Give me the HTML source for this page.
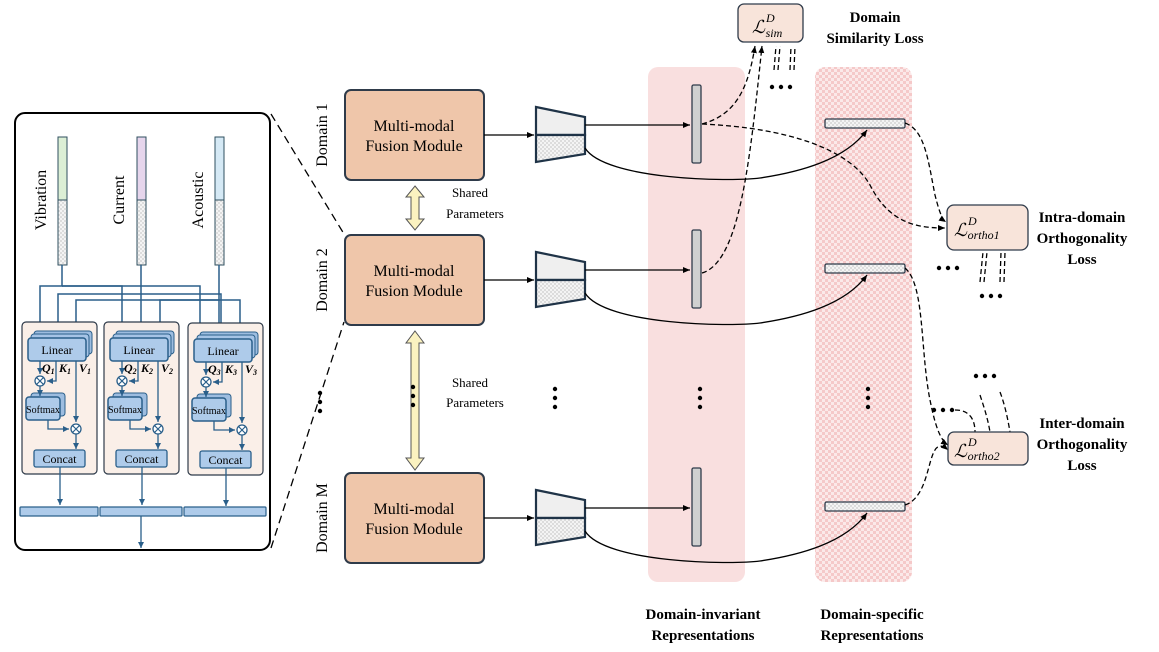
<!DOCTYPE html>
<html><head><meta charset="utf-8"><style>
html,body{margin:0;padding:0;background:#fff}
svg{display:block}
text{font-family:"Liberation Serif",serif}
</style></head><body>
<svg width="1159" height="652" viewBox="0 0 1159 652" xmlns="http://www.w3.org/2000/svg">
<defs>
<pattern id="chk" width="6" height="6" patternUnits="userSpaceOnUse"><rect width="6" height="6" fill="#fbe9e9"/><rect width="3" height="3" fill="#f5c9c9"/><rect x="3" y="3" width="3" height="3" fill="#f5c9c9"/></pattern>
<pattern id="gchk" width="4" height="4" patternUnits="userSpaceOnUse"><rect width="4" height="4" fill="#f4f4f4"/><rect width="2" height="2" fill="#dcdcdc"/><rect x="2" y="2" width="2" height="2" fill="#dcdcdc"/></pattern>
<marker id="ar" markerWidth="8" markerHeight="8" refX="7" refY="4" orient="auto" markerUnits="userSpaceOnUse"><path d="M0,1 L7,4 L0,7z" fill="#000"/></marker>
<marker id="ab" markerWidth="7" markerHeight="7" refX="6" refY="3.5" orient="auto" markerUnits="userSpaceOnUse"><path d="M0,0.5 L6,3.5 L0,6.5z" fill="#2a5f8a"/></marker>
</defs>

<!-- left panel -->
<rect x="15" y="113" width="255" height="437" rx="10" fill="#fff" stroke="#000" stroke-width="2"/>
<g>
<rect x="58" y="137" width="9" height="63" fill="#dcefd5" stroke="#2f4f5f"/>
<rect x="58" y="200" width="9" height="65" fill="url(#gchk)" stroke="#2f4f5f"/>
<rect x="137" y="137" width="9" height="63" fill="#e6d5ec" stroke="#2f4f5f"/>
<rect x="137" y="200" width="9" height="65" fill="url(#gchk)" stroke="#2f4f5f"/>
<rect x="215" y="137" width="9" height="63" fill="#d5e9f5" stroke="#2f4f5f"/>
<rect x="215" y="200" width="9" height="65" fill="url(#gchk)" stroke="#2f4f5f"/>
<text transform="translate(46,200) rotate(-90)" font-size="16" text-anchor="middle">Vibration</text>
<text transform="translate(124,200) rotate(-90)" font-size="16" text-anchor="middle">Current</text>
<text transform="translate(203,200) rotate(-90)" font-size="16" text-anchor="middle">Acoustic</text>
</g>
<!-- routing lines -->
<g stroke="#2a5f8a" stroke-width="1.5" fill="none">
<path d="M62,265 V286 H40 V336" marker-end="url(#ab)"/>
<path d="M62,286 H122 V336" marker-end="url(#ab)"/>
<path d="M62,286 H200 V336" marker-end="url(#ab)"/>
<path d="M141,265 V294 H58 V336" marker-end="url(#ab)"/>
<path d="M141,294 V336" marker-end="url(#ab)"/>
<path d="M141,294 H221 V336" marker-end="url(#ab)"/>
<path d="M219,265 V300 H76 V336" marker-end="url(#ab)"/>
<path d="M219,300 H160 V336" marker-end="url(#ab)"/>
<path d="M219,300 H240 V336" marker-end="url(#ab)"/>
<path d="M219,300 V336"/>
</g>
<!-- attention blocks -->
<g id="att">
<rect x="22" y="322" width="75" height="152" rx="4" fill="#faefe8" stroke="#2f3b4a" stroke-width="1.2"/>
<rect x="34" y="331" width="58" height="23" rx="3" fill="#9dbde0" stroke="#2a5f8a"/>
<rect x="31" y="334" width="58" height="23" rx="3" fill="#a6c4e6" stroke="#2a5f8a"/>
<rect x="28" y="338" width="58" height="23" rx="3" fill="#aecbea" stroke="#2a5f8a" stroke-width="1.5"/>
<text x="57" y="354" font-size="12" text-anchor="middle">Linear</text>
<rect x="31" y="393" width="34" height="23" rx="3" fill="#9dbde0" stroke="#2a5f8a"/>
<rect x="26" y="397" width="34" height="23" rx="3" fill="#aecbea" stroke="#2a5f8a" stroke-width="1.5"/>
<text x="43" y="413" font-size="10" text-anchor="middle">Softmax</text>
<circle cx="40" cy="381" r="5" fill="#fff" stroke="#2a5f8a" stroke-width="1.3"/>
<path d="M36.5,377.5 L43.5,384.5 M43.5,377.5 L36.5,384.5" stroke="#2a5f8a" stroke-width="1.2"/>
<circle cx="76" cy="429" r="5" fill="#fff" stroke="#2a5f8a" stroke-width="1.3"/>
<path d="M72.5,425.5 L79.5,432.5 M79.5,425.5 L72.5,432.5" stroke="#2a5f8a" stroke-width="1.2"/>
<g stroke="#2a5f8a" stroke-width="1.3" fill="none">
<path d="M40,361 V374" marker-end="url(#ab)"/>
<path d="M56,361 V381 H47" marker-end="url(#ab)"/>
<path d="M40,386 V396" marker-end="url(#ab)"/>
<path d="M76,361 V422" marker-end="url(#ab)"/>
<path d="M48,420 V429 H69" marker-end="url(#ab)"/>
<path d="M76,434 V449" marker-end="url(#ab)"/>
<path d="M60,467 V505" marker-end="url(#ab)"/>
</g>
<rect x="34" y="450" width="51" height="17" rx="2" fill="#aecbea" stroke="#2a5f8a" stroke-width="1.3"/>
<text x="59.5" y="463" font-size="12" text-anchor="middle">Concat</text>
</g>
<use href="#att" x="82"/>
<use href="#att" x="166" y="1"/>
<text x="42" y="372" font-size="12" font-weight="bold" font-style="italic">Q<tspan font-size="8" dy="2">1</tspan></text>
<text x="59" y="372" font-size="12" font-weight="bold" font-style="italic">K<tspan font-size="8" dy="2">1</tspan></text>
<text x="79" y="372" font-size="12" font-weight="bold" font-style="italic">V<tspan font-size="8" dy="2">1</tspan></text>
<text x="124" y="372" font-size="12" font-weight="bold" font-style="italic">Q<tspan font-size="8" dy="2">2</tspan></text>
<text x="141" y="372" font-size="12" font-weight="bold" font-style="italic">K<tspan font-size="8" dy="2">2</tspan></text>
<text x="161" y="372" font-size="12" font-weight="bold" font-style="italic">V<tspan font-size="8" dy="2">2</tspan></text>
<text x="208" y="373" font-size="12" font-weight="bold" font-style="italic">Q<tspan font-size="8" dy="2">3</tspan></text>
<text x="225" y="373" font-size="12" font-weight="bold" font-style="italic">K<tspan font-size="8" dy="2">3</tspan></text>
<text x="245" y="373" font-size="12" font-weight="bold" font-style="italic">V<tspan font-size="8" dy="2">3</tspan></text>
<g fill="#aecbea" stroke="#2a5f8a" stroke-width="1.2">
<rect x="20" y="507" width="78" height="9" rx="1"/>
<rect x="100" y="507" width="82" height="9" rx="1"/>
<rect x="184" y="507" width="82" height="9" rx="1"/>
</g>
<path d="M141,516 V548" stroke="#2a5f8a" stroke-width="1.3" marker-end="url(#ab)"/>

<!-- zoom dashed lines -->
<path d="M271,114 L344,234 M271,548 L344,322" stroke="#000" stroke-width="1.3" stroke-dasharray="8,5" fill="none"/>

<!-- panels -->
<rect x="648" y="67" width="97" height="515" rx="10" fill="#f9dfdf"/>
<rect x="815" y="67" width="97" height="515" rx="10" fill="url(#chk)"/>

<!-- domain labels -->
<text transform="translate(327,135) rotate(-90)" font-size="16" text-anchor="middle">Domain 1</text>
<text transform="translate(327,280) rotate(-90)" font-size="16" text-anchor="middle">Domain 2</text>
<text transform="translate(327,518) rotate(-90)" font-size="16" text-anchor="middle">Domain M</text>

<!-- fusion modules -->
<g fill="#efc6aa" stroke="#2f3b4a" stroke-width="2">
<rect x="345" y="90" width="139" height="90" rx="6"/>
<rect x="345" y="235" width="139" height="90" rx="6"/>
<rect x="345" y="473" width="139" height="90" rx="6"/>
</g>
<g font-size="16" text-anchor="middle">
<text x="414" y="131">Multi-modal</text><text x="414" y="151">Fusion Module</text>
<text x="414" y="276">Multi-modal</text><text x="414" y="296">Fusion Module</text>
<text x="414" y="514">Multi-modal</text><text x="414" y="534">Fusion Module</text>
</g>

<!-- yellow double arrows -->
<g fill="#fbf2c0" stroke="#555" stroke-width="1">
<path d="M415,186 L424,197 L419,197 L419,219 L424,219 L415,230 L406,219 L411,219 L411,197 L406,197 Z"/>
<path d="M415,331 L424,343 L419,343 L419,458 L424,458 L415,470 L406,458 L411,458 L411,343 L406,343 Z"/>
</g>
<g font-size="13" text-anchor="middle">
<text x="470" y="197">Shared</text><text x="475" y="218">Parameters</text>
<text x="470" y="387">Shared</text><text x="475" y="407">Parameters</text>
</g>

<!-- vertical dots -->
<g fill="#000">
<circle cx="320" cy="393" r="2.2"/><circle cx="320" cy="402" r="2.2"/><circle cx="320" cy="411" r="2.2"/>
<circle cx="413" cy="387" r="2.2"/><circle cx="413" cy="396" r="2.2"/><circle cx="413" cy="405" r="2.2"/>
<circle cx="555" cy="389" r="2.2"/><circle cx="555" cy="398" r="2.2"/><circle cx="555" cy="407" r="2.2"/>
<circle cx="700" cy="389" r="2.2"/><circle cx="700" cy="398" r="2.2"/><circle cx="700" cy="407" r="2.2"/>
<circle cx="868" cy="389" r="2.2"/><circle cx="868" cy="398" r="2.2"/><circle cx="868" cy="407" r="2.2"/>
<circle cx="772" cy="87" r="2.2"/><circle cx="781" cy="87" r="2.2"/><circle cx="790" cy="87" r="2.2"/>
<circle cx="939" cy="268" r="2.2"/><circle cx="948" cy="268" r="2.2"/><circle cx="957" cy="268" r="2.2"/>
<circle cx="982" cy="296" r="2.2"/><circle cx="991" cy="296" r="2.2"/><circle cx="1000" cy="296" r="2.2"/>
<circle cx="976" cy="376" r="2.2"/><circle cx="985" cy="376" r="2.2"/><circle cx="994" cy="376" r="2.2"/>
<circle cx="934" cy="410" r="2.2"/><circle cx="943" cy="410" r="2.2"/><circle cx="952" cy="410" r="2.2"/>
</g>

<!-- encoders -->
<g id="enc">
<path d="M536,107 L585,117 L585,135 L536,135 Z" fill="#efefef" stroke="#1f3347" stroke-width="2.2"/>
<path d="M536,135 L585,135 L585,154 L536,162 Z" fill="url(#gchk)" stroke="#1f3347" stroke-width="2.2"/>
<path d="M484,135 L534,135" stroke="#000" stroke-width="1.3" marker-end="url(#ar)"/>
<path d="M585,125 L690,125" stroke="#000" stroke-width="1.3" marker-end="url(#ar)"/>
<rect x="692" y="85" width="9" height="78" rx="1.5" fill="#d0d0d0" stroke="#2f3b4a" stroke-width="1.3"/>
<rect x="825" y="119" width="80" height="9" rx="1.5" fill="url(#gchk)" stroke="#2f3b4a" stroke-width="1.3"/>
<path d="M585,148 C605,180 730,182 760,178 C800,172 845,160 867,130" stroke="#000" stroke-width="1.3" fill="none" marker-end="url(#ar)"/>
</g>
<use href="#enc" y="145"/>
<use href="#enc" y="383"/>

<!-- dashed connectors -->
<g stroke="#000" stroke-width="1.3" stroke-dasharray="5,3" fill="none">
<path d="M702,124 C735,115 748,90 755,46" marker-end="url(#ar)"/>
<path d="M702,273 C740,262 750,160 762,46" marker-end="url(#ar)"/>
<path d="M702,124 C790,128 850,150 870,185 C890,225 920,228 945,228" marker-end="url(#ar)"/>
<path d="M905,123 C925,130 928,160 935,195 C940,215 943,220 946,222" marker-end="url(#ar)"/>
<path d="M905,268 C925,285 920,350 930,400 C935,425 940,440 948,445" marker-end="url(#ar)"/>
<path d="M905,505 C935,495 925,430 948,450" marker-end="url(#ar)"/>
<path d="M774,70 L776,46 M778,70 L780,46 M790,70 L791,46 M794,70 L795,46"/>
<path d="M980,282 L983,252 M984,282 L987,252 M1000,282 L1001,252 M1004,282 L1005,252"/>
<path d="M980,395 C985,410 988,420 990,432 M1000,392 C1005,405 1008,420 1010,432 M955,410 C970,410 975,420 975,432"/>
</g>

<!-- loss boxes -->
<g fill="#f8e4da" stroke="#2f3b4a" stroke-width="1.3">
<rect x="738" y="4" width="65" height="38" rx="6"/>
<rect x="947" y="205" width="81" height="45" rx="7"/>
<rect x="948" y="432" width="80" height="33" rx="6"/>
</g>
<g font-size="18" font-style="italic">
<text x="752" y="33">ℒ<tspan font-size="12" dx="1" dy="-11">D</tspan><tspan font-size="12" dx="-9" dy="15">sim</tspan></text>
<text x="954" y="236">ℒ<tspan font-size="12" dx="1" dy="-11">D</tspan><tspan font-size="12" dx="-9" dy="14">ortho1</tspan></text>
<text x="954" y="457">ℒ<tspan font-size="12" dx="1" dy="-11">D</tspan><tspan font-size="12" dx="-9" dy="14">ortho2</tspan></text>
</g>
<g font-size="15" font-weight="bold" text-anchor="middle">
<text x="875" y="22">Domain</text><text x="875" y="43">Similarity Loss</text>
<text x="1082" y="222">Intra-domain</text><text x="1082" y="243">Orthogonality</text><text x="1082" y="264">Loss</text>
<text x="1082" y="428">Inter-domain</text><text x="1082" y="449">Orthogonality</text><text x="1082" y="470">Loss</text>
<text x="703" y="619">Domain-invariant</text><text x="703" y="640">Representations</text>
<text x="872" y="619">Domain-specific</text><text x="872" y="640">Representations</text>
</g>
</svg>
</body></html>
